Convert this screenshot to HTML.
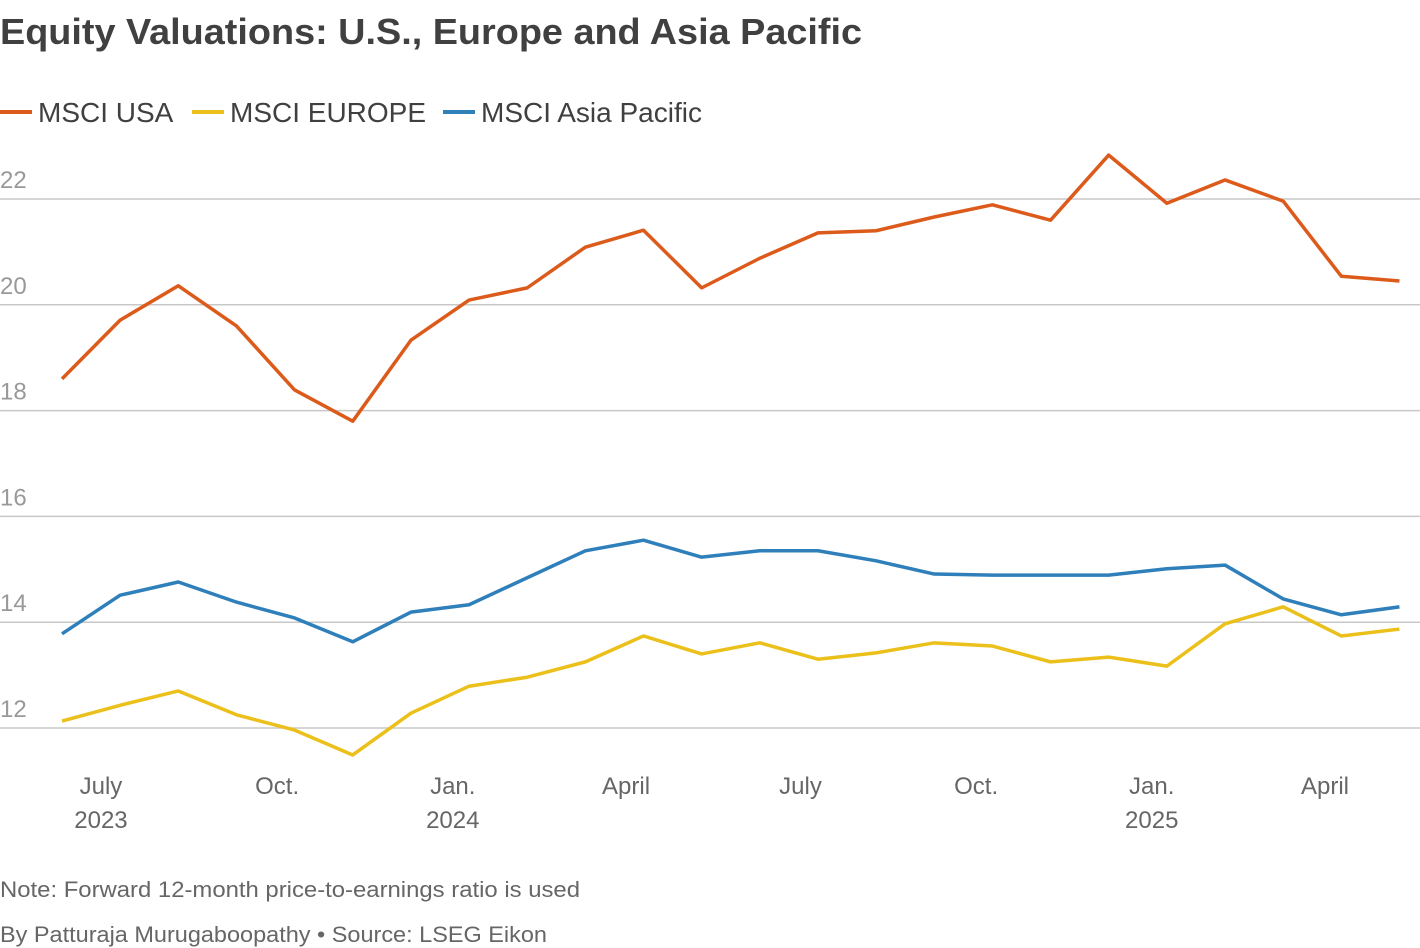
<!DOCTYPE html>
<html><head><meta charset="utf-8"><style>
body{margin:0;background:#fff;font-family:"Liberation Sans",sans-serif;}
svg{display:block}
</style></head><body>
<svg id="c" width="1420" height="948">
<text x="0" y="44" font-size="36" font-weight="bold" fill="#404040" textLength="862" lengthAdjust="spacingAndGlyphs">Equity Valuations: U.S., Europe and Asia Pacific</text>
<g>
<line x1="0" y1="112" x2="32" y2="112" stroke="#dc5a1a" stroke-width="4"/>
<text x="38" y="122" font-size="28" fill="#404040">MSCI USA</text>
<line x1="192" y1="112" x2="224" y2="112" stroke="#ecc01a" stroke-width="4"/>
<text x="230" y="122" font-size="28" fill="#404040">MSCI EUROPE</text>
<line x1="443" y1="112" x2="475" y2="112" stroke="#2e7fba" stroke-width="4"/>
<text x="481" y="122" font-size="28" fill="#404040">MSCI Asia Pacific</text>
</g>
<g id="grid"></g><g id="xl"></g><g id="lines"></g>
<text x="0" y="897" font-size="22" fill="#666" textLength="580" lengthAdjust="spacingAndGlyphs">Note: Forward 12-month price-to-earnings ratio is used</text>
<text x="0" y="942" font-size="22" fill="#666" textLength="547" lengthAdjust="spacingAndGlyphs">By Patturaja Murugaboopathy • Source: LSEG Eikon</text>
</svg>
<script>
const yTicks=[12,14,16,18,20,22];
const xTickLabels=["July","Oct.","Jan.","April","July","Oct.","Jan.","April"];
const xTickYears=["2023","","2024","","","","2025",""];
const xTickIdx=[0.67,3.7,6.72,9.7,12.7,15.72,18.74,21.72];
const usa=[18.60,19.71,20.36,19.60,18.39,17.80,19.33,20.09,20.32,21.09,21.41,20.32,20.88,21.36,21.40,21.66,21.89,21.60,22.83,21.92,22.36,21.96,20.54,20.45];
const europe=[12.13,12.43,12.70,12.25,11.96,11.49,12.28,12.79,12.96,13.25,13.74,13.40,13.61,13.30,13.42,13.61,13.55,13.25,13.34,13.17,13.97,14.29,13.74,13.87];
const asia=[13.78,14.51,14.76,14.38,14.08,13.63,14.19,14.33,14.84,15.35,15.55,15.23,15.35,15.35,15.16,14.91,14.89,14.89,14.89,15.01,15.08,14.44,14.14,14.29];
const NS="http://www.w3.org/2000/svg";
const y=v=>728-(v-12)*52.9;
const x=i=>62+i*58.15;
const g=document.getElementById('grid');
yTicks.forEach(t=>{
 const l=document.createElementNS(NS,'line');
 l.setAttribute('x1',0);l.setAttribute('x2',1420);l.setAttribute('y1',y(t));l.setAttribute('y2',y(t));
 l.setAttribute('stroke','#c8c8c8');l.setAttribute('stroke-width',1.5);
 
 
 g.appendChild(l);
 const tx=document.createElementNS(NS,'text');
 tx.setAttribute('x',0);tx.setAttribute('y',y(t)-11);tx.setAttribute('font-size',24);tx.setAttribute('fill','#999');
 tx.textContent=t;
 
 
 g.appendChild(tx);
});
const xl=document.getElementById('xl');
xTickLabels.forEach((s,k)=>{
 [[s,794],[xTickYears[k],828]].forEach(([str,yy])=>{
  if(!str)return;
  const tx=document.createElementNS(NS,'text');
  tx.setAttribute('x',x(xTickIdx[k]));tx.setAttribute('y',yy);tx.setAttribute('font-size',24);
  tx.setAttribute('fill','#666');tx.setAttribute('text-anchor','middle');
  tx.textContent=str;
  
  
  xl.appendChild(tx);
 });
});
const L=document.getElementById('lines');
[[asia,'#2e7fba','line-asia'],[europe,'#ecc01a','line-europe'],[usa,'#dc5a1a','line-usa']].forEach(([d,c,n])=>{
 const p=document.createElementNS(NS,'polyline');
 p.setAttribute('points',d.map((v,i)=>x(i)+','+y(v)).join(' '));
 p.setAttribute('fill','none');p.setAttribute('stroke',c);p.setAttribute('stroke-width',3.5);p.setAttribute('stroke-linejoin','round');
 
 
 L.appendChild(p);
});
</script>
</body></html>
